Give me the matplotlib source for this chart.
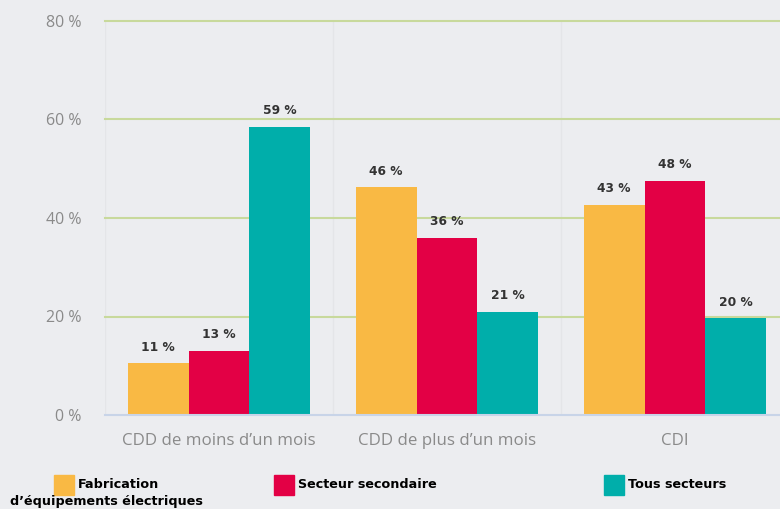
import matplotlib
matplotlib.use("Agg")
import matplotlib.pyplot as plt
import numpy as np
from matplotlib.patches import Rectangle

categories = ["CDD de moins d\u2019un mois", "CDD de plus d\u2019un mois", "CDI"]
series_names = ["Fabrication\nd\u2019\u00e9quipements \u00e9lectriques", "Secteur secondaire", "Tous secteurs"]
fabrication = [10.5, 46.2, 42.7]
secondaire = [13.0, 36.0, 47.5]
tous = [58.5, 21.0, 19.6]
fabrication_labels = ["11 %", "46 %", "43 %"]
secondaire_labels = ["13 %", "36 %", "48 %"]
tous_labels = ["59 %", "21 %", "20 %"]
yticks = [0, 20, 40, 60, 80]
ytick_labels = ["0 %", "20 %", "40 %", "60 %", "80 %"]

colors = ["#f9b944", "#e30045", "#00aeaa"]
bg = "#ecedf0"

fig = plt.figure(figsize=(7.8, 5.09), dpi=100, facecolor=bg)
ax = fig.add_axes([105/780, 94/509, 684/780, 394/509], facecolor=bg)

x = np.arange(len(categories))
w = 0.8 / 3
series = [fabrication, secondaire, tous]
labels = [fabrication_labels, secondaire_labels, tous_labels]
for i, (vals, labs) in enumerate(zip(series, labels)):
    pos = x + (i - 1) * w
    ax.bar(pos, vals, width=w, color=colors[i], zorder=3)
    for p, v, l in zip(pos, vals, labs):
        ax.annotate(l, (p, v), xytext=(0, 7), textcoords="offset points",
                    ha="center", va="bottom", fontsize=8.8, fontweight="bold",
                    color="#333333", family="DejaVu Sans")

ax.set_xlim(-0.5, 2.5)
ax.set_ylim(0, 80)
ax.set_yticks(yticks)
ax.set_yticklabels(ytick_labels)
ax.set_xticks(x)
ax.set_xticklabels(categories)
for yv in yticks[1:]:
    ax.axhline(yv, color="#c8d99c", lw=1.5, zorder=1, clip_on=False)
ax.axhline(0, color="#c8d4e8", lw=1.5, zorder=4, clip_on=False)
for xv in [-0.5, 0.5, 1.5]:
    ax.axvline(xv, color="#e4e5e8", lw=1, zorder=0)
for s in ax.spines.values():
    s.set_visible(False)
ax.tick_params(length=0, colors="#8a8a8a", labelsize=11.5)
ax.tick_params(axis="y", pad=17)
ax.tick_params(axis="x", pad=13, labelsize=12.2)
for t in ax.get_xticklabels() + ax.get_yticklabels():
    t.set_family("Open Sans")
    t.set_color("#8a8a8a")

# legend
legend_boxes = [(54, 475), (274, 475), (604, 475)]
for (lx, ly), c in zip(legend_boxes, colors):
    fig.patches.append(Rectangle((lx/780, 1 - (ly + 20)/509), 20/780, 20/509,
                                 transform=fig.transFigure, color=c))
fs = 9.2
fig.text(78/780, 1 - 485/509, "Fabrication", fontsize=fs, fontweight="bold",
         va="center", ha="left", color="black")
fig.text(10/780, 1 - 501/509, "d\u2019\u00e9quipements \u00e9lectriques", fontsize=fs,
         fontweight="bold", va="center", ha="left", color="black")
fig.text(298/780, 1 - 485/509, series_names[1], fontsize=fs, fontweight="bold",
         va="center", ha="left", color="black")
fig.text(628/780, 1 - 485/509, series_names[2], fontsize=fs, fontweight="bold",
         va="center", ha="left", color="black")

fig.savefig("out.png", dpi=100, facecolor=bg)
